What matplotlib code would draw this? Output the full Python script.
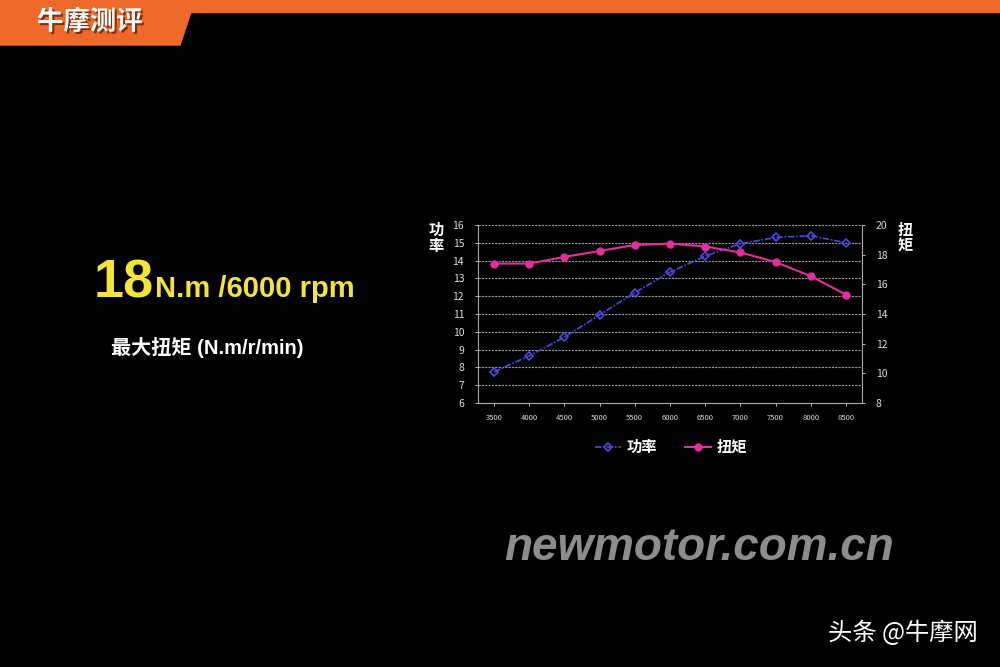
import matplotlib
matplotlib.use("Agg")
import matplotlib.pyplot as plt
import matplotlib.patheffects as pe
from matplotlib.patches import Polygon, Rectangle

plt.rcParams['font.family'] = ['Noto Sans CJK SC', 'DejaVu Sans']

# engine data
rpm = [3500, 4000, 4500, 5000, 5500, 6000, 6500, 7000, 7500, 8000, 8500]
power = [7.75, 8.65, 9.7, 10.95, 12.2, 13.35, 14.25, 14.95, 15.3, 15.4, 15.0]
torque = [17.4, 17.4, 17.85, 18.25, 18.65, 18.75, 18.55, 18.15, 17.5, 16.55, 15.3]
power_ticks = [6, 7, 8, 9, 10, 11, 12, 13, 14, 15, 16]
torque_ticks = [8, 10, 12, 14, 16, 18, 20]

blue = '#4a4ae0'
pink = '#e0309e'
orange = '#ee6a2a'

fig = plt.figure(figsize=(10, 6.67), dpi=100, facecolor='black')

# header band
fig.patches.append(Rectangle((0, 1 - 12/667), 1, 12/667, transform=fig.transFigure,
                             color=orange, zorder=0))
fig.patches.append(Polygon([(0, 1), (0.195, 1), (0.180, 1 - 45/667), (0, 1 - 45/667)],
                           closed=True, transform=fig.transFigure, color=orange, zorder=0))
fig.text(0.037, 1 - 22/667, '牛摩测评', color='white', fontsize=19, fontweight='bold',
         va='center', ha='left',
         path_effects=[pe.withSimplePatchShadow(offset=(1.5, -1.5), shadow_rgbFace='#6a2000', alpha=0.8)])

# headline
fig.text(0.094, 1 - 297/667, '18', color='#f2e43a', fontsize=39, fontweight='bold',
         family='Liberation Sans', va='baseline', ha='left')
fig.text(0.155, 1 - 297/667, 'N.m /6000 rpm', color='#f2e43a', fontsize=21, fontweight='bold',
         family='Liberation Sans', va='baseline', ha='left')
fig.text(0.111, 1 - 347/667, '最大扭矩 (N.m/r/min)', color='white', fontsize=14.5, fontweight='bold',
         family=['Liberation Sans', 'Noto Sans CJK SC'], va='center', ha='left')

# watermark
fig.text(0.699, 1 - 548/667, 'newmotor.com.cn', color='#8c8c8c', fontsize=33, fontweight='bold',
         style='italic', family='Liberation Sans', va='center', ha='center')
fig.text(0.978, 1 - 633/667, '头条 @牛摩网', color='white', fontsize=17.5, va='center', ha='right')

# chart
ax = fig.add_axes([0.478, 1 - 403/667, 0.384, 178/667])
ax.set_facecolor('black')
ax2 = ax.twinx()

ax.plot(rpm, power, color=blue, lw=1.2, ls=(0, (4, 1, 1, 1)), marker='D', ms=4,
        mfc='none', mec=blue, mew=1.2, label='功率')
ax2.plot(rpm, torque, color=pink, lw=1.5, marker='o', ms=5, mfc=pink, mec=pink, label='扭矩')

ax.set_xlim(3273, 8727)
ax.set_ylim(6, 16)
ax2.set_ylim(8, 20)
ax.set_xticks(rpm)
ax.set_yticks(power_ticks)
ax2.set_yticks(torque_ticks)
ax.yaxis.grid(True, color='#9a9a9a', ls=(0, (2, 1)), lw=0.8)
ax.set_axisbelow(True)

for a in (ax, ax2):
    for s in a.spines.values():
        s.set_visible(False)
    a.tick_params(colors='#dddddd', length=2, labelsize=7.5, width=0.6)
for a, side in ((ax, 'left'), (ax, 'bottom'), (ax2, 'right')):
    a.spines[side].set_visible(True)
    a.spines[side].set_color('#aaaaaa')
    a.spines[side].set_linestyle((0, (2, 1)))
ax.tick_params(axis='x', labelsize=5.5, pad=6)
ax.tick_params(axis='y', pad=8)
ax2.tick_params(axis='y', pad=8)

fig.text(0.436, 1 - 238/667, '功\n率', color='white', fontsize=11, fontweight='bold',
         ha='center', va='center', linespacing=1.0)
fig.text(0.905, 1 - 238/667, '扭\n矩', color='white', fontsize=11, fontweight='bold',
         ha='center', va='center', linespacing=1.0)

h1, l1 = ax.get_legend_handles_labels()
h2, l2 = ax2.get_legend_handles_labels()
leg = fig.legend(h1 + h2, l1 + l2, loc='center', bbox_to_anchor=(0.671, 1 - 447/667), ncol=2,
                 frameon=False, labelcolor='white', handlelength=1.7, handletextpad=0.4,
                 columnspacing=1.8, prop={'weight': 'bold', 'size': 11})

fig.savefig('out.png', dpi=100, facecolor='black')
